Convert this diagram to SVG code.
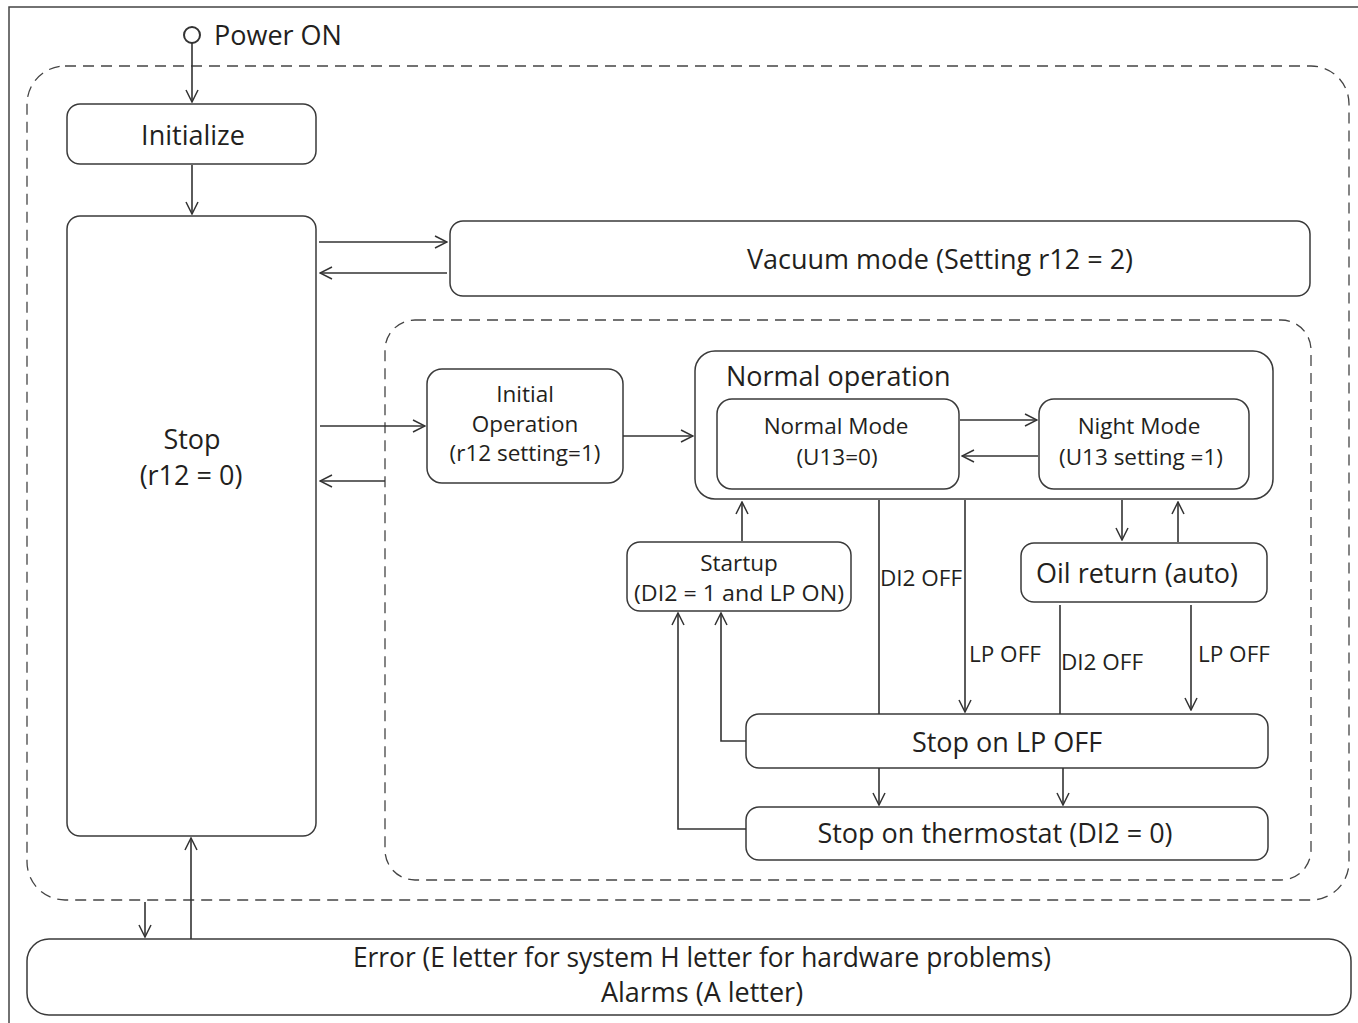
<svg xmlns="http://www.w3.org/2000/svg" width="1358" height="1023" viewBox="0 0 1358 1023">
<defs>
<marker id="arr" viewBox="0 0 14 14" refX="13" refY="7" markerWidth="14" markerHeight="14" markerUnits="userSpaceOnUse" orient="auto">
<path d="M1,1 L13,7 L1,13" fill="none" stroke="#333" stroke-width="1.5"/>
</marker>
<style>
.box{fill:#fff;stroke:#3a3a3a;stroke-width:1.5}
.dash{fill:none;stroke:#444;stroke-width:1.3;stroke-dasharray:11,7}
.c{fill:none;stroke:#333;stroke-width:1.6}
.a{fill:none;stroke:#333;stroke-width:1.6;marker-end:url(#arr)}
text{font-family:"Open Sans","Liberation Sans",sans-serif;fill:#231f20}
.L{font-size:27px}
.S{font-size:22.5px}
.m{text-anchor:middle}
</style>
</defs>
<rect x="0" y="0" width="1358" height="1023" fill="#fff"/>
<rect x="9" y="7" width="1370" height="1040" fill="none" stroke="#444" stroke-width="1.5"/>
<g id="outer-region"><rect class="dash" x="27" y="66" width="1322" height="834" rx="38"/></g>
<g id="inner-region"><rect class="dash" x="385" y="320" width="926" height="560" rx="30"/></g>
<g id="power-on"><circle cx="192" cy="35" r="8" fill="#fff" stroke="#333" stroke-width="2"/><text class="L" x="214" y="45">Power ON</text></g>
<g id="initialize"><rect class="box" x="67" y="104" width="249" height="60" rx="13"/><text class="L m" x="193" y="145">Initialize</text></g>
<g id="stop"><rect class="box" x="67" y="216" width="249" height="620" rx="13"/><text class="L m" x="192" y="449">Stop</text><text class="L m" x="191" y="485">(r12 = 0)</text></g>
<g id="vacuum"><rect class="box" x="450" y="221" width="860" height="75" rx="13"/><text class="L m" x="940" y="269">Vacuum mode (Setting r12 = 2)</text></g>
<g id="initial-operation"><rect class="box" x="427" y="369" width="196" height="114" rx="15"/><text class="S m" x="525" y="402">Initial</text><text class="S m" x="525" y="432">Operation</text><text class="S m" x="525" y="461">(r12 setting=1)</text></g>
<g id="normal-operation"><rect class="box" x="695" y="351" width="578" height="148" rx="20"/><text class="L" x="726" y="386">Normal operation</text></g>
<g id="normal-mode"><rect class="box" x="717" y="399" width="242" height="90" rx="15"/><text class="S m" x="836" y="434">Normal Mode</text><text class="S m" x="837" y="465">(U13=0)</text></g>
<g id="night-mode"><rect class="box" x="1039" y="399" width="210" height="90" rx="15"/><text class="S m" x="1139" y="434">Night Mode</text><text class="S m" x="1141" y="465">(U13 setting =1)</text></g>
<g id="startup"><rect class="box" x="627" y="542" width="224" height="69" rx="13"/><text class="S m" x="739" y="571">Startup</text><text class="S m" x="739" y="601" textLength="210" lengthAdjust="spacingAndGlyphs">(DI2 = 1 and LP ON)</text></g>
<g id="oil-return"><rect class="box" x="1021" y="543" width="246" height="59" rx="13"/><text class="L m" x="1137" y="583">Oil return (auto)</text></g>
<g id="stop-lp-off"><rect class="box" x="746" y="714" width="522" height="54" rx="13"/><text class="L m" x="1007" y="752">Stop on LP OFF</text></g>
<g id="stop-thermostat"><rect class="box" x="746" y="807" width="522" height="53" rx="13"/><text class="L m" x="995" y="843">Stop on thermostat (DI2 = 0)</text></g>
<g id="error"><rect class="box" x="27" y="939" width="1324" height="76" rx="22"/><text class="L m" x="702" y="967" textLength="698" lengthAdjust="spacingAndGlyphs">Error (E letter for system H letter for hardware problems)</text><text class="L m" x="702" y="1002">Alarms (A letter)</text></g>
<g id="connectors">
<line class="a" x1="192" y1="43" x2="192" y2="102"/>
<line class="a" x1="192" y1="165" x2="192" y2="214"/>
<line class="a" x1="319" y1="242" x2="447" y2="242"/>
<line class="a" x1="447" y1="273" x2="320" y2="273"/>
<line class="a" x1="320" y1="426" x2="425" y2="426"/>
<line class="a" x1="385" y1="481" x2="320" y2="481"/>
<line class="a" x1="623" y1="436" x2="693" y2="436"/>
<line class="a" x1="960" y1="420" x2="1037" y2="420"/>
<line class="a" x1="1038" y1="456" x2="962" y2="456"/>
<line class="a" x1="742" y1="541" x2="742" y2="502"/>
<line class="a" x1="1122" y1="500" x2="1122" y2="540"/>
<line class="a" x1="1178" y1="542" x2="1178" y2="502"/>
<line class="c" x1="879" y1="500" x2="879" y2="714"/>
<text class="S" x="880" y="586">DI2 OFF</text>
<line class="a" x1="965" y1="500" x2="965" y2="712"/>
<text class="S" x="969" y="662">LP OFF</text>
<line class="c" x1="1060" y1="605" x2="1060" y2="714"/>
<text class="S" x="1061" y="670">DI2 OFF</text>
<line class="a" x1="1191" y1="605" x2="1191" y2="710"/>
<text class="S" x="1198" y="662">LP OFF</text>
<line class="a" x1="879" y1="768" x2="879" y2="805"/>
<line class="a" x1="1063" y1="768" x2="1063" y2="805"/>
<polyline class="a" points="746,741 721,741 721,613"/>
<polyline class="a" points="746,829 678,829 678,613"/>
<line class="a" x1="145" y1="902" x2="145" y2="937"/>
<line class="a" x1="191" y1="939" x2="191" y2="838"/>
</g>
</svg>
